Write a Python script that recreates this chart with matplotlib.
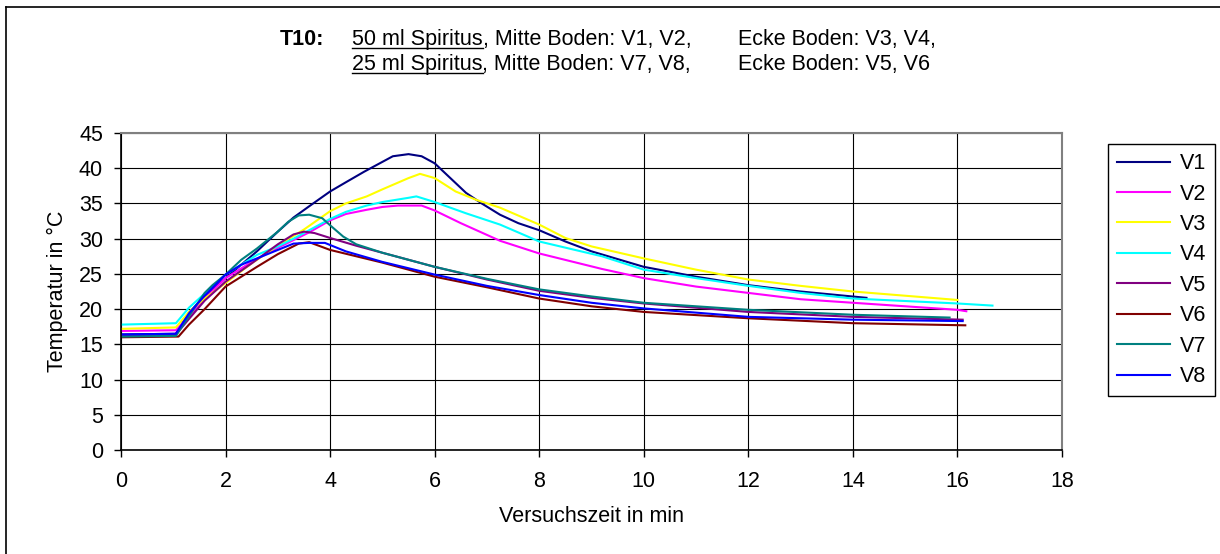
"""
T10 temperature curves (Spiritus burn test), redrawn after the Excel chart.
"""

import matplotlib
matplotlib.use("Agg")
import matplotlib.pyplot as plt
from matplotlib.lines import Line2D

W, H = 1220, 554
FS = 15.5

plt.rcParams["font.family"] = ["Liberation Sans", "DejaVu Sans"]
plt.rcParams["font.size"] = FS

# Values (time in min, temperature in degC)
v1_t = [0, 1.05, 1.3, 1.6, 2.0, 2.3, 2.6, 3.0, 3.3, 3.6, 4.0, 4.3, 4.65, 5.0, 5.2, 5.5,
        5.75, 6.0, 6.3, 6.6, 6.9, 7.25, 7.6, 8.0, 8.5, 9.0, 10.0, 11.0, 12.0, 13.0, 14.26]
v1_T = [16.4, 16.5, 19.5, 21.8, 24.4, 26.3, 28.2, 31.0, 33.0, 34.6, 36.7, 38.0, 39.5, 40.9,
        41.7, 42.0, 41.7, 40.7, 38.6, 36.5, 35.0, 33.4, 32.2, 31.2, 29.6, 28.2, 26.0, 24.6,
        23.4, 22.5, 21.6]

v2_t = [0, 1.05, 1.3, 1.6, 2.0, 2.5, 3.0, 3.3, 3.6, 4.0, 4.3, 4.7, 5.0, 5.3, 5.75, 6.0,
        6.5, 7.25, 8.0, 9.2, 10.0, 11.0, 12.0, 13.0, 14.0, 16.0, 16.17]
v2_T = [16.9, 17.0, 19.0, 21.5, 24.4, 26.7, 28.7, 29.8, 30.9, 32.6, 33.5, 34.1, 34.5, 34.7,
        34.7, 34.0, 32.2, 29.7, 27.9, 25.7, 24.4, 23.2, 22.3, 21.4, 20.9, 19.9, 19.7]

v3_t = [0, 1.05, 1.3, 1.6, 2.0, 2.5, 3.0, 3.5, 4.0, 4.3, 4.7, 5.0, 5.5, 5.72, 6.0, 6.4,
        6.8, 7.25, 8.0, 8.5, 9.0, 10.0, 11.0, 12.0, 13.0, 14.0, 16.0]
v3_T = [17.2, 17.4, 19.6, 21.5, 23.7, 26.5, 29.0, 31.3, 33.9, 35.0, 36.0, 37.0, 38.6, 39.2,
        38.6, 36.7, 35.5, 34.4, 32.0, 30.1, 28.9, 27.2, 25.6, 24.2, 23.3, 22.5, 21.3]

v4_t = [0, 1.05, 1.3, 1.6, 2.0, 2.3, 2.6, 3.0, 3.3, 3.6, 4.0, 4.3, 4.7, 5.0, 5.5, 5.65,
        6.0, 6.6, 7.25, 8.0, 9.2, 10.0, 11.0, 12.0, 13.0, 14.0, 16.0, 16.67]
v4_T = [17.8, 18.0, 20.2, 22.2, 24.9, 26.3, 27.7, 28.9, 30.0, 31.2, 32.8, 33.8, 34.7, 35.2,
        35.8, 36.0, 35.2, 33.6, 32.0, 29.6, 27.5, 25.6, 24.4, 23.3, 22.3, 21.5, 20.8, 20.5]

v5_t = [0, 1.05, 1.3, 1.6, 2.0, 2.5, 3.0, 3.3, 3.5, 3.7, 4.0, 4.5, 5.0, 6.0, 7.0, 8.0,
        9.0, 10.0, 12.0, 14.0, 16.1]
v5_T = [16.3, 16.4, 18.6, 21.2, 23.9, 26.5, 29.2, 30.6, 31.0, 30.8, 30.1, 29.0, 28.0, 26.0,
        24.2, 22.6, 21.6, 20.8, 19.6, 18.9, 18.5]

v6_t = [0, 1.1, 1.3, 1.6, 2.0, 2.6, 3.0, 3.4, 3.6, 4.0, 5.0, 6.0, 7.0, 8.0, 9.0, 10.0,
        12.0, 14.0, 16.15]
v6_T = [16.0, 16.1, 17.8, 20.0, 23.2, 26.0, 27.8, 29.3, 29.5, 28.4, 26.6, 24.6, 23.1, 21.5,
        20.4, 19.6, 18.7, 18.0, 17.7]

v7_t = [0, 1.05, 1.3, 1.6, 1.75, 2.0, 2.3, 2.6, 3.0, 3.2, 3.4, 3.6, 3.85, 4.0, 4.25, 4.5,
        5.0, 6.0, 7.0, 8.0, 9.0, 10.0, 12.0, 14.0, 15.85]
v7_T = [16.1, 16.2, 19.0, 22.3, 23.4, 24.9, 27.0, 28.6, 31.0, 32.4, 33.3, 33.4, 32.9, 31.9,
        30.3, 29.2, 28.0, 26.0, 24.3, 22.8, 21.8, 20.9, 19.9, 19.2, 18.8]

v8_t = [0, 1.05, 1.3, 1.6, 2.0, 2.3, 2.6, 3.0, 3.3, 3.6, 3.9, 4.0, 4.3, 5.0, 6.0, 7.0,
        8.0, 9.0, 10.0, 12.0, 14.0, 16.1]
v8_T = [16.4, 16.5, 19.4, 21.9, 24.9, 26.3, 27.2, 28.4, 29.3, 29.4, 29.4, 29.1, 28.2, 26.7,
        24.9, 23.3, 22.0, 20.9, 20.1, 18.9, 18.5, 18.3]

labels = ["V1", "V2", "V3", "V4", "V5", "V6", "V7", "V8"]
colors = ["#000080", "#FF00FF", "#FFFF00", "#00FFFF", "#800080", "#800000", "#008080", "#0000FF"]
series = [(v1_t, v1_T), (v2_t, v2_T), (v3_t, v3_T), (v4_t, v4_T),
          (v5_t, v5_T), (v6_t, v6_T), (v7_t, v7_T), (v8_t, v8_T)]

fig = plt.figure(figsize=(W / 100, H / 100), dpi=100)

# plot area in pixels: left 121, right 1062, top 133, bottom 450
ax = fig.add_axes([121 / W, 1 - 450 / H, (1062 - 121) / W, (450 - 133) / H])

for (t, T), c, lab in zip(series, colors, labels):
    ax.plot(t, T, color=c, lw=1.5, label=lab)

ax.set_xlim(0, 18)
ax.set_ylim(0, 45)
ax.set_xticks(range(0, 19, 2))
ax.set_yticks(range(0, 46, 5))
ax.grid(True, color="black", lw=0.8)
ax.set_axisbelow(True)
ax.tick_params(direction="out", length=5, width=1, color="black")
ax.tick_params(axis="x", pad=10)
ax.tick_params(axis="y", pad=8)
for side in ["left", "bottom"]:
    ax.spines[side].set_color("black")
    ax.spines[side].set_linewidth(1.2)
for side in ["top", "right"]:
    ax.spines[side].set_color("#808080")
    ax.spines[side].set_linewidth(1.5)

ax.set_xlabel("Versuchszeit in min", labelpad=10)
ax.set_ylabel("Temperatur in °C", labelpad=8)

fig.legend(loc="upper left", bbox_to_anchor=(1108 / W, 1 - 144 / H), frameon=True,
           fancybox=False, edgecolor="black", framealpha=1, borderaxespad=0,
           handlelength=2.45, handletextpad=0.47, labelspacing=0.44, borderpad=0.42)

# title with underlined pieces
fig.canvas.draw()
renderer = fig.canvas.get_renderer()


def put_line(pieces, x, base):
    for text, bold, under in pieces:
        t = fig.text(x / W, 1 - base / H, text, ha="left", va="baseline",
                     weight="bold" if bold else "normal", fontsize=FS)
        bb = t.get_window_extent(renderer)
        if under:
            yu = (H - base - 2.5) / H
            fig.add_artist(Line2D([bb.x0 / W, bb.x1 / W], [yu, yu], color="black", lw=1))
        x = bb.x1


put_line([("T10:", True, False)], 280, 45)
put_line([("50 ml Spiritus", False, True), (", Mitte Boden: V1, V2,", False, False)], 352, 45)
put_line([("Ecke Boden: V3, V4,", False, False)], 738, 45)
put_line([("25 ml Spiritus", False, True), (", Mitte Boden: V7, V8,", False, False)], 352, 70)
put_line([("Ecke Boden: V5, V6", False, False)], 738, 70)

# outer chart border (only top and left edges are visible in the crop)
fig.add_artist(Line2D([6 / W, 6 / W], [0, 1 - 7 / H], color="black", lw=1.2))
fig.add_artist(Line2D([6 / W, 1], [1 - 7 / H, 1 - 7 / H], color="black", lw=1.2))

fig.savefig("out.png", dpi=100)
